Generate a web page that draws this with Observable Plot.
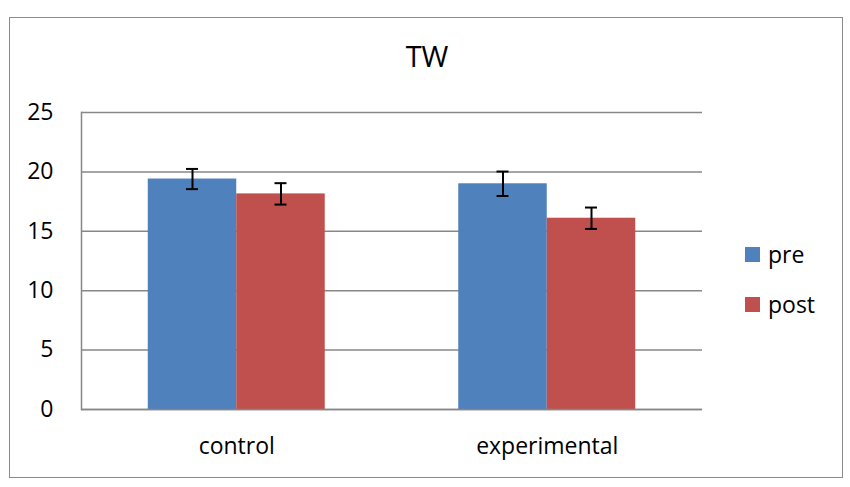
<!DOCTYPE html>
<html>
<head>
<meta charset="utf-8">
<script src="https://cdn.jsdelivr.net/npm/d3@7"></script>
<script src="https://cdn.jsdelivr.net/npm/@observablehq/plot@0.6"></script>
<style>
  body { margin: 0; background: white; font-family: "Open Sans", sans-serif; }
  #wrap { position: relative; width: 850px; height: 487px; overflow: hidden; }
  #chart { position: absolute; left: 0; top: 0; }
  #border { position: absolute; left: 9px; top: 17px; width: 832px; height: 459px; border: 1.5px solid #8a8a8a; pointer-events: none; }
  #title { position: absolute; left: 0; width: 854px; top: 36px; text-align: center; font-size: 29px; line-height: 40px; color: #000; }
  .leg { position: absolute; left: 745px; font-size: 23px; line-height: 30px; height: 30px; display: flex; align-items: center; color: #000; }
  .sw { width: 15px; height: 15px; margin-right: 8px; display: inline-block; }
</style>
</head>
<body>
<div id="wrap">
  <div id="chart"></div>
  <div id="title">TW</div>
  <div id="legend"></div>
  <div id="border"></div>
</div>
<script>
const groups = ["control", "experimental"];
const series = ["pre", "post"];
const preMeans = [19.4, 19.0];
const postMeans = [18.15, 16.1];
const preErr = [0.85, 1.03];
const postErr = [0.9, 0.9];
const yTicks = [0, 5, 10, 15, 20, 25];
const colors = ["#4F81BD", "#C0504D"];

const rows = groups.flatMap((g, i) => [
  {group: g, series: "pre", mean: preMeans[i], err: preErr[i]},
  {group: g, series: "post", mean: postMeans[i], err: postErr[i]}
]);
const pre = rows.filter(d => d.series === "pre");
const post = rows.filter(d => d.series === "post");

const width = 850, height = 487;
const ml = 81, mr = 148, mt = 112, mb = 78;
const pInner = 0.43, pOuter = 0.215;
const W = width - ml - mr;
const step = W / (groups.length - pInner + 2 * pOuter);
const bw = step * (1 - pInner);
const half = bw / 2;
const cap = 6;
const grey = "#878787";

const errMarks = (data, side) => {
  const c = side < 0 ? bw / 4 : 3 * bw / 4;
  return [
    Plot.ruleX(data, {x: "group", y1: d => d.mean - d.err, y2: d => d.mean + d.err, dx: side * bw / 4, stroke: "black", strokeWidth: 2}),
    Plot.tickY(data, {x: "group", y: d => d.mean + d.err, insetLeft: c - cap, insetRight: bw - c - cap, stroke: "black", strokeWidth: 2}),
    Plot.tickY(data, {x: "group", y: d => d.mean - d.err, insetLeft: c - cap, insetRight: bw - c - cap, stroke: "black", strokeWidth: 2})
  ];
};

const chart = Plot.plot({
  width, height,
  marginLeft: ml, marginRight: mr, marginTop: mt, marginBottom: mb,
  style: {fontFamily: "Open Sans", fontSize: "23px", background: "transparent", color: "black", overflow: "visible"},
  x: {domain: groups, paddingInner: pInner, paddingOuter: pOuter, round: false, label: null},
  y: {domain: [0, 25], label: null},
  color: {domain: series, range: colors},
  marks: [
    Plot.gridY(yTicks, {stroke: grey, strokeOpacity: 1, strokeWidth: 1.5}),
    Plot.barY(pre, {x: "group", y: "mean", fill: "series", insetRight: half}),
    Plot.barY(post, {x: "group", y: "mean", fill: "series", insetLeft: half}),
    ...errMarks(pre, -1),
    ...errMarks(post, 1),
    Plot.ruleY([0], {stroke: grey, strokeWidth: 1.5}),
    Plot.frame({anchor: "left", stroke: grey, strokeWidth: 1.5}),
    Plot.axisY(yTicks, {tickSize: 0, tickPadding: 28, label: null}),
    Plot.axisX({tickSize: 0, tickPadding: 28, label: null})
  ]
});
document.getElementById("chart").appendChild(chart);

const legend = document.getElementById("legend");
series.forEach((s, i) => {
  const item = document.createElement("div");
  item.className = "leg";
  item.style.top = (239 + i * 50) + "px";
  item.innerHTML = `<span class="sw" style="background:${colors[i]}"></span><span>${s}</span>`;
  legend.appendChild(item);
});
</script>
</body>
</html>
